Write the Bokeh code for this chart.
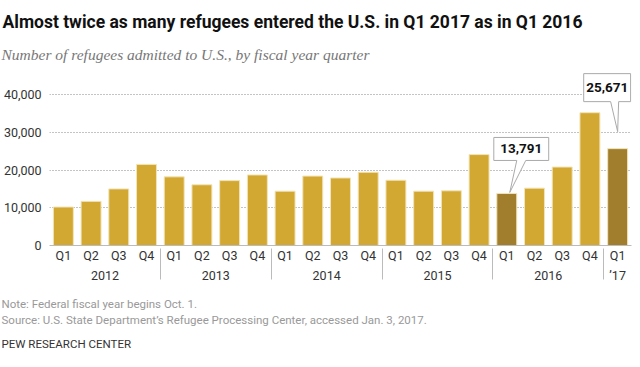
from bokeh.plotting import figure
from bokeh.models import FactorRange, Range1d, NumeralTickFormatter, Title
from bokeh.core.properties import value
from bokeh.embed import file_html
from bokeh.resources import INLINE

# ---- data ----
years = ["2012"] * 4 + ["2013"] * 4 + ["2014"] * 4 + ["2015"] * 4 + ["2016"] * 4 + ["\u201917"]
quarters = ["Q1", "Q2", "Q3", "Q4"] * 5 + ["Q1"]
refugees = [10200, 11700, 15000, 21500,
            18200, 16100, 17200, 18700,
            14400, 18400, 17900, 19400,
            17300, 14400, 14500, 24100,
            13791, 15200, 20800, 35200,
            25671]
highlight_idx = [16, 20]
callout_text = ["13,791", "25,671"]
y_ticks = [0, 10000, 20000, 30000, 40000]

title_text = "Almost twice as many refugees entered the U.S. in Q1 2017 as in Q1 2016"
subtitle_text = "Number of refugees admitted to U.S., by fiscal year quarter"
note_text = "Note: Federal fiscal year begins Oct. 1."
source_text = "Source: U.S. State Department\u2019s Refugee Processing Center, accessed Jan. 3, 2017."
credit_text = "PEW RESEARCH CENTER"

# ---- styling / layout ----
FONT = "Roboto"
SERIF = "Liberation Serif"
BAR = "#D2A833"
BAR_HI = "#A07E2E"
W, H = 638, 353
ML, MR = 48, 7
FW = W - ML - MR
FH = 173
Y_END = 45850
PX_X = FW / len(refugees)      # pixels per category unit
PX_Y = FH / Y_END              # pixels per data unit

factors = list(zip(years, quarters))
p = figure(width=W, height=H,
           x_range=FactorRange(*factors, factor_padding=0, group_padding=0,
                               subgroup_padding=0, range_padding=0),
           y_range=Range1d(0, Y_END),
           output_backend="svg", toolbar_location=None, title=None,
           min_border_left=ML, min_border_right=MR,
           min_border_top=0, min_border_bottom=0)
p.outline_line_color = None
p.background_fill_color = "white"
p.border_fill_color = "white"

colors = [BAR_HI if i in highlight_idx else BAR for i in range(len(refugees))]
p.vbar(x=factors, top=refugees, width=0.72, fill_color=colors,
       line_color="#F2E4B8", line_width=1)

# axes
xa = p.xaxis[0]
xa.axis_line_color = "#BBBBBB"
xa.major_tick_line_color = None
xa.minor_tick_line_color = None
xa.major_tick_out = 0
xa.major_tick_in = 0
xa.major_label_text_font = FONT
xa.major_label_text_font_size = "12.5px"
xa.major_label_text_color = "#333333"
xa.major_label_standoff = 2
xa.group_text_font = FONT
xa.group_text_font_size = "12.5px"
xa.group_text_font_style = "normal"
xa.group_text_color = "#333333"
xa.separator_line_color = "#BBBBBB"
xa.separator_line_width = 1

ya = p.yaxis[0]
ya.ticker = y_ticks
ya.formatter = NumeralTickFormatter(format="0,0")
ya.axis_line_color = None
ya.major_tick_line_color = None
ya.minor_tick_line_color = None
ya.major_tick_out = 0
ya.major_tick_in = 0
ya.major_label_text_font = FONT
ya.major_label_text_font_size = "12.5px"
ya.major_label_text_color = "#333333"
ya.major_label_standoff = 8

p.xgrid.visible = False
p.ygrid.grid_line_color = "#888888"
p.ygrid.grid_line_dash = "1 2"
p.ygrid.grid_line_width = 1

# callouts: (box dx left, box dx right, box bottom above bar top, box height,
#            pointer base left, pointer base right, tip dx, tip dy) in px
callout_geom = [(-13, 42, 33, 23, 10, 19, 3, 1),
                (-34, 13, 47, 28, -7, 1, 0, 17)]
xs, ys, tx, ty = [], [], [], []
for (i, g) in zip(highlight_idx, callout_geom):
    l, r, b, h, bl, br, tdx, tdy = g
    cx = i + 0.5
    top_v = refugees[i]
    X = lambda px: cx + px / PX_X
    Y = lambda py: top_v + py / PX_Y
    xs.append([X(l), X(r), X(r), X(br), X(tdx), X(bl), X(l)])
    ys.append([Y(b + h), Y(b + h), Y(b), Y(b), Y(tdy), Y(b), Y(b)])
    tx.append(X((l + r) / 2))
    ty.append(Y(b + h / 2))
p.patches(xs, ys, fill_color="white", line_color="#AAAAAA", line_width=1)
p.text(x=tx, y=ty, text=callout_text, text_align="center", text_baseline="middle",
       text_font=value(FONT), text_font_style="bold", text_font_size="13.5px",
       text_color="#111111")

# titles above (first added = nearest the frame)
p.add_layout(Title(text=" ", text_font_size="1px", standoff=5), "above")
p.add_layout(Title(text=subtitle_text, align="left", offset=-ML, vertical_align="middle",
                   text_font=SERIF, text_font_size="15.5px", text_font_style="italic",
                   text_color="#777777", standoff=2), "above")
p.add_layout(Title(text=title_text, align="left", offset=-ML + 1, vertical_align="middle",
                   text_font=FONT, text_font_size="17.5px", text_font_style="bold",
                   text_color="#111111", standoff=21), "above")

# footer below the axis
p.add_layout(Title(text=note_text + "\n" + source_text, align="left", offset=-ML,
                   vertical_align="bottom", text_font=FONT, text_font_size="11.5px",
                   text_font_style="normal", text_line_height=1.13,
                   text_color="#999999", standoff=19), "below")
p.add_layout(Title(text=credit_text, align="left", offset=-ML,
                   vertical_align="top", text_font=FONT, text_font_size="11.5px",
                   text_font_style="normal", text_color="#333333", standoff=1), "below")

open("out.html", "w").write(file_html(p, INLINE))
